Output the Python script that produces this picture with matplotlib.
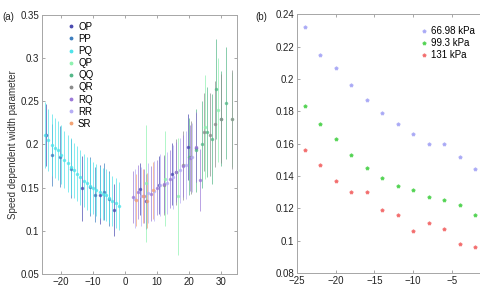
import numpy as np
import matplotlib.pyplot as plt
from matplotlib.lines import Line2D
from matplotlib.ticker import FuncFormatter

plt.rcParams['font.family'] = ['Liberation Sans', 'DejaVu Sans']

# ---- panel (a): speed dependent width parameter per branch ----
names = ['OP', 'PP', 'PQ', 'QP', 'QQ', 'QR', 'RQ', 'RR', 'SR']
colors = ['#4b4bb0', '#3f7fbf', '#4fe3ea', '#8ff2b0', '#55b888',
          '#8c8c8c', '#9c7ad8', '#b6aef5', '#f3a476']

op_x = [-24.7, -13.4, -8.0, -3.6, 4.6, 6.6, 10.6, 14.5, 19.6, 22.2]
op_y = [0.211, 0.149, 0.142, 0.124, 0.148, 0.134, 0.153, 0.166, 0.197, 0.196]
op_e = [0.036, 0.038, 0.034, 0.030, 0.030, 0.032, 0.034, 0.036, 0.038, 0.040]

pp_x = [-22.8, -20.4, -17.0, -11.1, -9.5, -6.5, -5.0]
pp_y = [0.188, 0.186, 0.172, 0.151, 0.142, 0.145, 0.137]
pp_e = [0.036, 0.035, 0.034, 0.034, 0.032, 0.033, 0.032]

pq_x = [-25, -24, -23, -22, -21, -20, -19, -18, -17, -16, -15, -14,
        -13, -12, -11, -10, -9, -8, -7, -6, -5, -4, -3, -2]
pq_y = [0.211, 0.205, 0.199, 0.196, 0.193, 0.188, 0.182, 0.178, 0.174,
        0.170, 0.166, 0.162, 0.158, 0.155, 0.152, 0.150, 0.147, 0.145,
        0.143, 0.141, 0.138, 0.135, 0.132, 0.129]
pq_e = [0.038, 0.036, 0.036, 0.035, 0.034, 0.034, 0.033, 0.033, 0.033,
        0.032, 0.032, 0.032, 0.031, 0.031, 0.031, 0.030, 0.030, 0.030,
        0.030, 0.030, 0.029, 0.029, 0.029, 0.028]

qp_x = [6.4, 12.4, 16.4, 25.0, 29.0, 33.5]
qp_y = [0.155, 0.160, 0.140, 0.220, 0.240, 0.229]
qp_e = [0.068, 0.055, 0.068, 0.060, 0.060, 0.055]

qq_x = [20.0, 22.0, 24.0, 25.5, 27.0, 28.5, 30.0, 31.6]
qq_y = [0.186, 0.193, 0.200, 0.214, 0.206, 0.264, 0.230, 0.248]
qq_e = [0.045, 0.048, 0.050, 0.052, 0.052, 0.058, 0.055, 0.065]

qr_x = [12.0, 16.0, 18.0, 20.5, 24.6, 26.4, 28.0, 30.0, 33.4]
qr_y = [0.153, 0.168, 0.176, 0.185, 0.214, 0.211, 0.224, 0.230, 0.229]
qr_e = [0.035, 0.038, 0.040, 0.042, 0.045, 0.048, 0.050, 0.052, 0.057]

rq_x = [2.6, 4.0, 6.0, 8.0, 10.0, 12.0, 14.0, 16.0, 18.0, 20.2, 22.3, 23.3]
rq_y = [0.139, 0.145, 0.140, 0.143, 0.150, 0.154, 0.160, 0.168, 0.175,
        0.184, 0.197, 0.159]
rq_e = [0.030, 0.031, 0.031, 0.032, 0.032, 0.033, 0.034, 0.035, 0.036,
        0.038, 0.040, 0.036]

rr_x = [3.0, 5.0, 7.0, 9.0, 11.0, 13.0, 15.0, 17.0, 19.0, 21.0]
rr_y = [0.137, 0.140, 0.144, 0.146, 0.153, 0.155, 0.162, 0.170, 0.176, 0.185]
rr_e = [0.034, 0.034, 0.035, 0.035, 0.036, 0.036, 0.037, 0.038, 0.039, 0.040]

sr_x = [3.4, 5.5, 6.7, 8.8]
sr_y = [0.136, 0.140, 0.135, 0.147]
sr_e = [0.030, 0.031, 0.032, 0.033]

series_a = [(op_x, op_y, op_e), (pp_x, pp_y, pp_e), (pq_x, pq_y, pq_e),
            (qp_x, qp_y, qp_e), (qq_x, qq_y, qq_e), (qr_x, qr_y, qr_e),
            (rq_x, rq_y, rq_e), (rr_x, rr_y, rr_e), (sr_x, sr_y, sr_e)]

# ---- panel (b): width parameter vs m at three pressures ----
m_vals = [-24, -22, -20, -18, -16, -14, -12, -10, -8, -6, -4, -2]
p_labels = ['66.98 kPa', '99.3 kPa', '131 kPa']
p_colors = ['#a3a3f5', '#45d045', '#f26262']
w_low = [0.232, 0.215, 0.207, 0.196, 0.187, 0.179, 0.172, 0.166,
         0.160, 0.160, 0.152, 0.144]
w_mid = [0.183, 0.172, 0.163, 0.153, 0.145, 0.139, 0.134, 0.131,
         0.127, 0.125, 0.122, 0.116]
w_high = [0.156, 0.147, 0.137, 0.130, 0.130, 0.119, 0.116, 0.106,
          0.111, 0.107, 0.098, 0.096]

fig = plt.figure(figsize=(4.8, 2.86), dpi=100)
ax1 = fig.add_axes([0.0875, 0.042, 0.4065, 0.906])
ax2 = fig.add_axes([0.619, 0.0455, 0.403, 0.905])

def matlab_fmt(v, pos):
    s = ('%.2f' % v).rstrip('0').rstrip('.')
    return s

for (x, y, e), nm, c in zip(series_a, names, colors):
    ax1.errorbar(x, y, yerr=e, fmt='.', color=c, ecolor=c, elinewidth=0.7,
                 markersize=3, capsize=0, alpha=0.7)

ax1.set_xlim(-26, 35)
ax1.set_ylim(0.05, 0.35)
ax1.set_xticks([-20, -10, 0, 10, 20, 30])
ax1.set_yticks(np.arange(0.05, 0.351, 0.05))
ax1.yaxis.set_major_formatter(FuncFormatter(matlab_fmt))
ax1.set_ylabel('Speed dependent width parameter', fontsize=7, color='#333333',
               labelpad=2)
handles = [Line2D([], [], ls='none', marker='.', markersize=3.5, color=c)
           for c in colors]
ax1.legend(handles, names, loc='upper left', bbox_to_anchor=(0.1, 1.0),
           frameon=False, fontsize=7, handlelength=0.6, handletextpad=0.4,
           labelspacing=0.22, borderpad=0.2)

for k in range(3):
    ax2.plot(m_vals, [w_low, w_mid, w_high][k], '*', color=p_colors[k],
             markersize=2.6, alpha=0.8, label=p_labels[k])
ax2.set_xlim(-25, 0)
ax2.set_ylim(0.08, 0.24)
ax2.set_xticks([-25, -20, -15, -10, -5])
ax2.set_yticks(np.arange(0.08, 0.241, 0.02))
ax2.yaxis.set_major_formatter(FuncFormatter(matlab_fmt))
ax2.legend(loc='upper left', bbox_to_anchor=(0.605, 0.98), frameon=False,
           fontsize=7, handlelength=0.6, handletextpad=0.4,
           labelspacing=0.22, borderpad=0.2)

for ax in (ax1, ax2):
    ax.tick_params(direction='in', top=True, right=True, length=2.5,
                   width=0.6, labelsize=7, colors='#222222', pad=2)
    ax.tick_params(axis='both', color='#999999')
    for sp in ax.spines.values():
        sp.set_color('#a6a6a6')
        sp.set_linewidth(0.7)

fig.text(0.004, 0.93, '(a)', fontsize=7, color='#222222')
fig.text(0.531, 0.93, '(b)', fontsize=7, color='#222222')

fig.savefig('out.png', dpi=100)
